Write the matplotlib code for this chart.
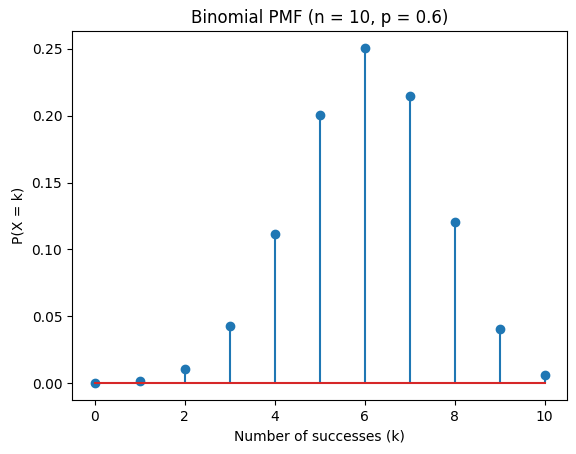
import matplotlib
matplotlib.use("Agg")
import matplotlib.pyplot as plt

# values
k = [0, 1, 2, 3, 4, 5, 6, 7, 8, 9, 10]
pmf = [0.0001, 0.0016, 0.0106, 0.0425, 0.1115, 0.2007, 0.2508, 0.2150, 0.1209, 0.0403, 0.0060]

W, H = 576, 454
fig = plt.figure(figsize=(W / 100, H / 100), dpi=100)
ax = fig.add_axes([72 / W, (H - 400) / H, 495 / W, 369 / H])
ax.stem(k, pmf)
ax.set_title("Binomial PMF (n = 10, p = 0.6)")
ax.set_xlabel("Number of successes (k)")
ax.set_ylabel("P(X = k)")

fig.savefig("out.png", dpi=100)
